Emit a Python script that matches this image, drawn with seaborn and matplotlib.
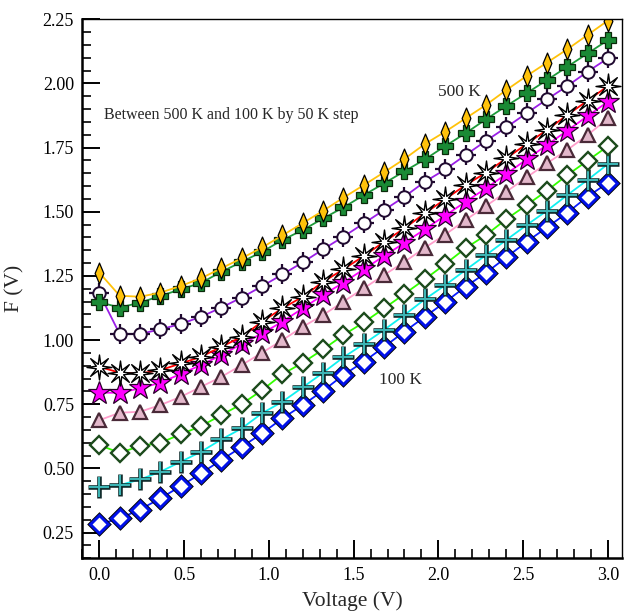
import matplotlib
matplotlib.use("Agg")
import matplotlib.pyplot as plt
from matplotlib.path import Path
from matplotlib.ticker import MultipleLocator
import seaborn as sns
import pandas as pd

voltage = [0.00, 0.12, 0.24, 0.36, 0.48, 0.60, 0.72, 0.84, 0.96, 1.08, 1.20, 1.32, 1.44,
           1.56, 1.68, 1.80, 1.92, 2.04, 2.16, 2.28, 2.40, 2.52, 2.64, 2.76, 2.88, 3.00]

f_500 = [1.263, 1.173, 1.169, 1.185, 1.211, 1.241, 1.280, 1.319, 1.361, 1.408, 1.456, 1.504, 1.555,
         1.604, 1.654, 1.706, 1.764, 1.812, 1.864, 1.916, 1.974, 2.029, 2.081, 2.133, 2.189, 2.245]
f_450 = [1.148, 1.127, 1.146, 1.172, 1.198, 1.223, 1.266, 1.305, 1.344, 1.390, 1.429, 1.474, 1.517,
         1.565, 1.611, 1.658, 1.704, 1.756, 1.806, 1.860, 1.912, 1.962, 2.013, 2.065, 2.117, 2.169]
f_400 = [1.182, 1.024, 1.024, 1.042, 1.063, 1.091, 1.127, 1.166, 1.210, 1.256, 1.303, 1.354, 1.403,
         1.455, 1.507, 1.559, 1.617, 1.665, 1.721, 1.776, 1.829, 1.884, 1.938, 1.990, 2.046, 2.098]
f_350 = [0.896, 0.873, 0.870, 0.883, 0.909, 0.935, 0.974, 1.013, 1.072, 1.124, 1.169, 1.227, 1.276,
         1.328, 1.383, 1.436, 1.494, 1.549, 1.604, 1.652, 1.708, 1.764, 1.819, 1.877, 1.933, 1.990]
f_300 = [0.795, 0.795, 0.812, 0.834, 0.868, 0.903, 0.942, 0.985, 1.026, 1.072, 1.124, 1.176, 1.224,
         1.276, 1.328, 1.379, 1.432, 1.485, 1.539, 1.591, 1.647, 1.704, 1.760, 1.816, 1.873, 1.929]
f_250 = [0.688, 0.717, 0.721, 0.747, 0.779, 0.818, 0.857, 0.903, 0.951, 1.000, 1.052, 1.098, 1.150,
         1.202, 1.254, 1.305, 1.360, 1.411, 1.468, 1.522, 1.578, 1.634, 1.689, 1.741, 1.799, 1.864]
f_200 = [0.591, 0.561, 0.587, 0.600, 0.633, 0.665, 0.708, 0.751, 0.805, 0.867, 0.912, 0.964, 1.020,
         1.069, 1.124, 1.180, 1.237, 1.296, 1.358, 1.409, 1.471, 1.526, 1.582, 1.643, 1.699, 1.756]
f_150 = [0.428, 0.435, 0.457, 0.487, 0.526, 0.565, 0.613, 0.656, 0.715, 0.760, 0.816, 0.873, 0.933,
         0.985, 1.040, 1.098, 1.159, 1.214, 1.273, 1.331, 1.390, 1.448, 1.504, 1.565, 1.624, 1.686]
f_100 = [0.283, 0.305, 0.340, 0.383, 0.431, 0.481, 0.533, 0.584, 0.637, 0.695, 0.747, 0.803, 0.864,
         0.916, 0.974, 1.033, 1.091, 1.148, 1.208, 1.262, 1.322, 1.383, 1.439, 1.496, 1.559, 1.613]

x_ticks = [0.0, 0.5, 1.0, 1.5, 2.0, 2.5, 3.0]
y_ticks = [0.25, 0.50, 0.75, 1.00, 1.25, 1.50, 1.75, 2.00, 2.25]

sns.set_style("ticks")
plt.rcParams['font.family'] = ['Liberation Serif', 'DejaVu Serif']

fig = plt.figure(figsize=(6.24, 6.11), dpi=100)
ax = fig.add_axes([0.132, 0.0863, 0.8645, 0.8821])

thin_diamond = Path([(0, -1), (0.42, 0), (0, 1), (-0.42, 0), (0, -1)],
                    [Path.MOVETO, Path.LINETO, Path.LINETO, Path.LINETO, Path.CLOSEPOLY])
burst = Path.unit_regular_star(8, 0.27)


def draw(y, line_color, layers):
    df = pd.DataFrame({"V": voltage, "F": y})
    sns.lineplot(data=df, x="V", y="F", ax=ax, color=line_color, lw=1.3,
                 estimator=None, sort=False, errorbar=None)
    for lay in layers:
        sns.lineplot(data=df, x="V", y="F", ax=ax, linestyle="none",
                     estimator=None, sort=False, errorbar=None, **lay)


# 100 K
draw(f_100, "#0a1cff", [
    dict(marker="D", markersize=9.2, markerfacecolor="white", markeredgecolor="black", markeredgewidth=3.4, color="black"),
    dict(marker="D", markersize=9.2, markerfacecolor="white", markeredgecolor="#0010e8", markeredgewidth=2.1, color="#0010e8"),
])
# 150 K
draw(f_150, "#10f0f0", [
    dict(marker="+", markersize=15.5, markeredgecolor="#102a2a", markeredgewidth=3.3, color="#102a2a"),
    dict(marker="+", markersize=14.5, markeredgecolor="#3cb4b4", markeredgewidth=1.5, color="#3cb4b4"),
])
# 200 K
draw(f_200, "#33ff00", [
    dict(marker="D", markersize=9.4, markerfacecolor="white", markeredgecolor="#1b4a1b", markeredgewidth=1.7, color="#1b4a1b"),
])
# 250 K
draw(f_250, "#ff9fcc", [
    dict(marker="^", markersize=10.5, markerfacecolor="#e3b8cb", markeredgecolor="#4a2a38", markeredgewidth=1.6, color="#4a2a38"),
])
# 300 K
draw(f_300, "#ff00ff", [
    dict(marker="*", markersize=17, markerfacecolor="#ff00ff", markeredgecolor="#2a002a", markeredgewidth=0.9, color="#ff00ff"),
])
# 350 K
draw(f_350, "#ff0000", [
    dict(marker=burst, markersize=18, markerfacecolor="white", markeredgecolor="black", markeredgewidth=1.0, color="black"),
])
# 400 K
draw(f_400, "#9a1fe6", [
    dict(marker="+", markersize=15, markeredgecolor="#200a30", markeredgewidth=1.6, color="#200a30"),
    dict(marker="o", markersize=9, markerfacecolor="white", markeredgecolor="#200a30", markeredgewidth=1.4, color="#200a30"),
])
# 450 K
draw(f_450, "#1d9a3a", [
    dict(marker="P", markersize=12, markerfacecolor="#1a8a35", markeredgecolor="#0a2a0a", markeredgewidth=0.9, color="#1a8a35"),
])
# 500 K
draw(f_500, "#ffc20a", [
    dict(marker=thin_diamond, markersize=15, markerfacecolor="#ffc20a", markeredgecolor="black", markeredgewidth=0.9, color="#ffc20a"),
])

ax.set_xlim(-0.1, 3.082)
ax.set_ylim(0.15, 2.25)
ax.set_xticks(x_ticks)
ax.set_xticklabels([f"{v:.1f}" for v in x_ticks])
ax.set_yticks(y_ticks)
ax.set_yticklabels([f"{v:.2f}" for v in y_ticks])
ax.xaxis.set_minor_locator(MultipleLocator(0.1))
ax.yaxis.set_minor_locator(MultipleLocator(0.05))
ax.tick_params(which="major", direction="in", length=13, width=1.4, labelsize=13, pad=6,
               top=False, right=False, colors="black")
ax.tick_params(which="minor", direction="in", length=6.5, width=1.4, top=False, right=False)
for side in ["left", "bottom"]:
    ax.spines[side].set_linewidth(1.8)
for side in ["top", "right"]:
    ax.spines[side].set_linewidth(1.0)
    ax.spines[side].set_visible(True)
for s in ax.spines.values():
    s.set_color("black")

ax.set_xlabel("Voltage (V)", fontsize=15.5)
ax.set_ylabel("F (V)", fontsize=15.5)
ax.xaxis.set_label_coords(0.5, -0.062)
ax.yaxis.set_label_coords(-0.108, 0.5)

ax.text(0.025, 1.877, "Between 500 K and 100 K by 50 K step", fontsize=11.5, va="center", ha="left")
ax.text(2.0, 1.968, "500 K", fontsize=12.5, va="center", ha="left")
ax.text(1.647, 0.844, "100 K", fontsize=12.5, va="center", ha="left")

fig.savefig("out.png", dpi=100)
